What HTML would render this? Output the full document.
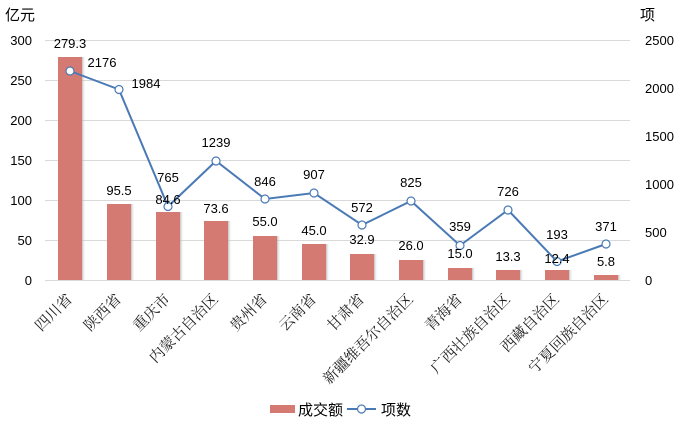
<!DOCTYPE html>
<html><head><meta charset="utf-8"><style>body{margin:0;background:#fff}svg{display:block}text{font-family:"Liberation Sans","Noto Sans CJK SC",sans-serif;fill:#000}.cat text{font-family:"Liberation Serif","Noto Serif CJK SC",serif;fill:#222}</style></head><body>
<svg width="678" height="431" viewBox="0 0 678 431" xmlns="http://www.w3.org/2000/svg">
<defs><linearGradient id="sh" x1="0" x2="1"><stop offset="0" stop-color="#999" stop-opacity=".6"/><stop offset="1" stop-color="#fff" stop-opacity="0"/></linearGradient></defs>
<g stroke="#d9d9d9" stroke-width="1">
<line x1="45" x2="630" y1="40.5" y2="40.5"/><line x1="45" x2="630" y1="80.5" y2="80.5"/><line x1="45" x2="630" y1="120.5" y2="120.5"/><line x1="45" x2="630" y1="160.5" y2="160.5"/><line x1="45" x2="630" y1="200.5" y2="200.5"/><line x1="45" x2="630" y1="240.5" y2="240.5"/><line x1="45" x2="630" y1="280.5" y2="280.5"/>
</g>
<g font-size="13" text-anchor="end">
<text x="32" y="45">300</text><text x="32" y="85">250</text><text x="32" y="125">200</text><text x="32" y="165">150</text><text x="32" y="205">100</text><text x="32" y="245">50</text><text x="32" y="285">0</text>
</g>
<g font-size="13">
<text x="645" y="45">2500</text><text x="645" y="93">2000</text><text x="645" y="141">1500</text><text x="645" y="189">1000</text><text x="645" y="237">500</text><text x="645" y="285">0</text>
</g>
<text x="5" y="20" font-size="15">亿元</text>
<text x="640" y="20" font-size="15">项</text>
<g id="bars">
<rect x="82" y="57" width="4" height="223" fill="url(#sh)"/><rect x="58" y="57" width="24" height="223" fill="#d47a73"/>
<rect x="131" y="204" width="4" height="76" fill="url(#sh)"/><rect x="107" y="204" width="24" height="76" fill="#d47a73"/>
<rect x="180" y="212" width="4" height="68" fill="url(#sh)"/><rect x="156" y="212" width="24" height="68" fill="#d47a73"/>
<rect x="228" y="221" width="4" height="59" fill="url(#sh)"/><rect x="204" y="221" width="24" height="59" fill="#d47a73"/>
<rect x="277" y="236" width="4" height="44" fill="url(#sh)"/><rect x="253" y="236" width="24" height="44" fill="#d47a73"/>
<rect x="326" y="244" width="4" height="36" fill="url(#sh)"/><rect x="302" y="244" width="24" height="36" fill="#d47a73"/>
<rect x="374" y="254" width="4" height="26" fill="url(#sh)"/><rect x="350" y="254" width="24" height="26" fill="#d47a73"/>
<rect x="423" y="260" width="4" height="20" fill="url(#sh)"/><rect x="399" y="260" width="24" height="20" fill="#d47a73"/>
<rect x="472" y="268" width="4" height="12" fill="url(#sh)"/><rect x="448" y="268" width="24" height="12" fill="#d47a73"/>
<rect x="520" y="270" width="4" height="10" fill="url(#sh)"/><rect x="496" y="270" width="24" height="10" fill="#d47a73"/>
<rect x="569" y="270" width="4" height="10" fill="url(#sh)"/><rect x="545" y="270" width="24" height="10" fill="#d47a73"/>
<rect x="618" y="275" width="4" height="5" fill="url(#sh)"/><rect x="594" y="275" width="24" height="5" fill="#d47a73"/>
</g>
<polyline fill="none" stroke="#4a7ab5" stroke-width="2" points="70,71 119,89.5 168,206.5 216,161 265,199 314,193 362,225 411,201 460,245.5 508,210 557,261.5 606,244"/>
<g fill="#fff" stroke="#4a7ab5" stroke-width="1.2">
<circle cx="70" cy="71" r="4"/><circle cx="119" cy="89.5" r="4"/><circle cx="168" cy="206.5" r="4"/><circle cx="216" cy="161" r="4"/><circle cx="265" cy="199" r="4"/><circle cx="314" cy="193" r="4"/><circle cx="362" cy="225" r="4"/><circle cx="411" cy="201" r="4"/><circle cx="460" cy="245.5" r="4"/><circle cx="508" cy="210" r="4"/><circle cx="557" cy="261.5" r="4"/><circle cx="606" cy="244" r="4"/>
</g>
<g font-size="13" text-anchor="middle">
<text x="70" y="48">279.3</text><text x="119" y="195">95.5</text><text x="168" y="204">84.6</text><text x="216" y="213">73.6</text><text x="265" y="226">55.0</text><text x="314" y="235">45.0</text><text x="362" y="244">32.9</text><text x="411" y="250">26.0</text><text x="460" y="258">15.0</text><text x="508" y="261">13.3</text><text x="557" y="263">12.4</text><text x="606" y="266">5.8</text>
<text x="102" y="67">2176</text><text x="146" y="88">1984</text><text x="168" y="182">765</text><text x="216" y="147">1239</text><text x="265" y="186">846</text><text x="314" y="179">907</text><text x="362" y="212">572</text><text x="411" y="187">825</text><text x="460" y="231">359</text><text x="508" y="196">726</text><text x="557" y="239">193</text><text x="606" y="231">371</text>
</g>
<g class="cat" font-size="15" text-anchor="end">
<text transform="translate(73,300) rotate(-45)">四川省</text>
<text transform="translate(122,300) rotate(-45)">陕西省</text>
<text transform="translate(171,300) rotate(-45)">重庆市</text>
<text transform="translate(219,300) rotate(-45)">内蒙古自治区</text>
<text transform="translate(268,300) rotate(-45)">贵州省</text>
<text transform="translate(317,300) rotate(-45)">云南省</text>
<text transform="translate(365,300) rotate(-45)">甘肃省</text>
<text transform="translate(414,300) rotate(-45)">新疆维吾尔自治区</text>
<text transform="translate(463,300) rotate(-45)">青海省</text>
<text transform="translate(511,300) rotate(-45)">广西壮族自治区</text>
<text transform="translate(560,300) rotate(-45)">西藏自治区</text>
<text transform="translate(609,300) rotate(-45)">宁夏回族自治区</text>
</g>
<rect x="270" y="405" width="25" height="8" fill="#d47a73"/>
<text x="298" y="415" font-size="15">成交额</text>
<line x1="347" x2="376" y1="409" y2="409" stroke="#4a7ab5" stroke-width="2"/>
<circle cx="361.5" cy="409" r="4" fill="#fff" stroke="#4a7ab5" stroke-width="1.2"/>
<text x="381" y="415" font-size="15">项数</text>
</svg>
</body></html>
